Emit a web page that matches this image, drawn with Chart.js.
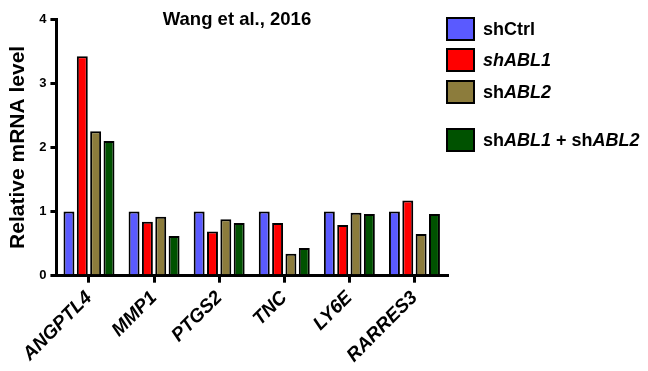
<!DOCTYPE html>
<html>
<head>
<meta charset="utf-8">
<script src="https://cdn.jsdelivr.net/npm/chart.js@4/dist/chart.umd.min.js"></script>
<style>
  body { margin: 0; background: #fff; }
  #caja { position: relative; width: 648px; height: 371px; }
  #titulo { position: absolute; left: 137px; width: 200px; top: 8px; text-align: center; font: bold 18.5px "Liberation Sans", Arial, sans-serif; color: #000; }
  #leyenda { position: absolute; left: 446px; top: 0; font: bold 18px "Liberation Sans", Arial, sans-serif; color: #000; }
  .fila { position: absolute; left: 0; white-space: nowrap; }
  .cuadro { position: absolute; left: 0; top: 0; width: 29px; height: 24px; border: 2.5px solid #000; box-sizing: border-box; }
  .texto { position: absolute; left: 37px; top: 1px; line-height: 22px; }
</style>
</head>
<body>
<div id="caja">
  <canvas id="grafico" width="648" height="371"></canvas>
  <div id="titulo">Wang et al., 2016</div>
  <div id="leyenda"></div>
</div>
<script>
// genes y niveles de ARNm por condicion
var genes = ['ANGPTL4', 'MMP1', 'PTGS2', 'TNC', 'LY6E', 'RARRES3'];
var shCtrl = [1, 1, 1, 1, 1, 1];
var shABL1 = [3.42, 0.84, 0.69, 0.82, 0.79, 1.17];
var shABL2 = [2.25, 0.92, 0.88, 0.34, 0.98, 0.65];
var shAmbos = [2.1, 0.62, 0.82, 0.43, 0.96, 0.96];
var marcasY = [0, 1, 2, 3, 4];

var colores = ['#5a5aff', '#ff0000', '#8c7c3c', '#005200'];
var etiquetas = ['shCtrl', '<i>shABL1</i>', 'sh<i>ABL2</i>', 'sh<i>ABL1</i> + sh<i>ABL2</i>'];
var posLeyenda = [17, 48, 80, 128];

function serie(nombre, datos, i) {
    return {
        label: nombre,
        data: datos,
        backgroundColor: colores[i],
        borderColor: '#000',
        borderWidth: 2,
        borderSkipped: 'bottom',
        categoryPercentage: 0.82,
        barPercentage: 0.82
    };
}

var fuente = '"Liberation Sans", Arial, sans-serif';

new Chart(document.getElementById('grafico'), {
    type: 'bar',
    data: {
        labels: genes,
        datasets: [
            serie('shCtrl', shCtrl, 0),
            serie('shABL1', shABL1, 1),
            serie('shABL2', shABL2, 2),
            serie('shABL1 + shABL2', shAmbos, 3)
        ]
    },
    options: {
        responsive: false,
        animation: false,
        layout: { padding: { top: 19, right: 201, left: 6, bottom: 0 } },
        plugins: {
            legend: { display: false },
            tooltip: { enabled: false }
        },
        scales: {
            x: {
                offset: true,
                grid: { display: true, drawOnChartArea: false, offset: false, color: '#000', lineWidth: 3, tickLength: 7 },
                border: { color: '#000', width: 3 },
                ticks: {
                    color: '#000',
                    maxRotation: 45,
                    minRotation: 45,
                    padding: 4,
                    font: { family: fuente, size: 19, weight: 'bold', style: 'italic' }
                }
            },
            y: {
                min: 0,
                max: 4,
                afterBuildTicks: function (eje) {
                    eje.ticks = marcasY.map(function (v) { return { value: v }; });
                },
                grid: { display: true, drawOnChartArea: false, color: '#000', lineWidth: 3, tickLength: 6 },
                border: { color: '#000', width: 3 },
                ticks: {
                    color: '#000',
                    padding: 4,
                    font: { family: fuente, size: 13, weight: 'bold' }
                },
                title: {
                    display: true,
                    text: 'Relative mRNA level',
                    color: '#000',
                    padding: { top: 0, bottom: 4 },
                    font: { family: fuente, size: 21, weight: 'bold' }
                }
            }
        }
    }
});

// leyenda con cursivas en los nombres de genes
var leyenda = document.getElementById('leyenda');
for (var i = 0; i < etiquetas.length; i++) {
    var fila = document.createElement('div');
    fila.className = 'fila';
    fila.style.top = posLeyenda[i] + 'px';
    fila.innerHTML = '<div class="cuadro" style="background:' + colores[i] + '"></div><span class="texto">' + etiquetas[i] + '</span>';
    leyenda.appendChild(fila);
}
</script>
</body>
</html>
